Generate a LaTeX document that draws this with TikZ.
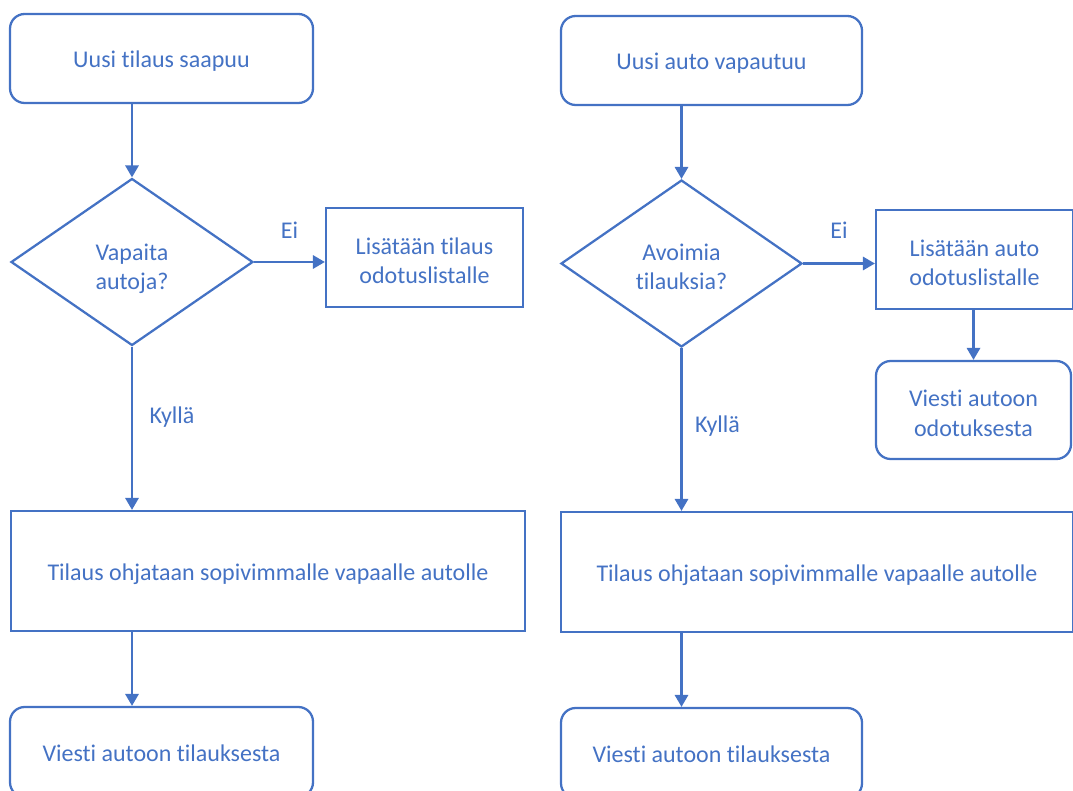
\documentclass[tikz,border=0pt]{standalone}
\usepackage{fontspec}
\setmainfont{Carlito}[Ligatures={NoCommon}]
\usetikzlibrary{shapes.geometric,arrows.meta}
\definecolor{flowblue}{HTML}{4472C4}
\begin{document}
\begin{tikzpicture}[x=0.75pt,y=-0.75pt,
  every node/.style={text=flowblue,font=\fontsize{18}{22}\selectfont,align=center},
  wh/.style 2 args={minimum width=#1*0.75pt,minimum height=#2*0.75pt,inner sep=0pt},
  % fixed text height and depth keep the text block evenly placed in its shape
  base/.style={draw=flowblue,line width=1.7pt,text height=19pt,text depth=5pt},
  twolines/.style={text height=#1},
  terminal/.style={base,rectangle,rounded corners=11pt},
  process/.style={base,rectangle},
  decision/.style={base,diamond},
  arr/.style={draw=flowblue,line width=1.7pt,-{Triangle[length=9pt,width=10pt]}},
  lbl/.style={draw=none,inner sep=0pt}]
\path[use as bounding box,clip] (0,0) rectangle (1073,791);

% left flow: a new order arrives
\node[terminal,wh={303}{89}] (s1) at (161.5,58.5) {Uusi tilaus saapuu};
\node[decision,wh={242}{167},twolines=47pt] (d1) at (132,262) {Vapaita\\autoja?};
\node[process,wh={197}{99},twolines=44pt] (q1) at (424.5,257.5) {Lisätään tilaus\\odotuslistalle};
\node[process,wh={514}{120}] (t1) at (268,571) {Tilaus ohjataan sopivimmalle vapaalle autolle};
\node[terminal,wh={303}{90}] (e1) at (161.5,752) {Viesti autoon tilauksesta};

\draw[arr] (d1.north |- s1.south) -- (d1.north);
\draw[arr] (d1.east) -- node[lbl,midway,yshift=24pt] (ei1) {Ei} (d1.east -| q1.west);
\draw[arr] (d1.south) -- node[lbl,pos=0.434,xshift=30pt] (ky1) {Kyllä} (d1.south |- t1.north);
\draw[arr] (d1.south |- t1.south) -- (d1.south |- e1.north);

% right flow: a car becomes free
\node[terminal,wh={301}{89}] (s2) at (711.5,60.5) {Uusi auto vapautuu};
\node[decision,wh={241}{167},twolines=44pt] (d2) at (681.5,263.5) {Avoimia\\tilauksia?};
\node[process,wh={197}{99},twolines=44pt] (q2) at (974.5,259.5) {Lisätään auto\\odotuslistalle};
\node[terminal,wh={195}{98},twolines=44pt] (m2) at (973.5,410) {Viesti autoon\\odotuksesta};
\node[process,wh={512}{120}] (t2) at (817,572) {Tilaus ohjataan sopivimmalle vapaalle autolle};
\node[terminal,wh={301}{90}] (e2) at (711.5,753) {Viesti autoon tilauksesta};

\draw[arr] (d2.north |- s2.south) -- (d2.north);
\draw[arr] (d2.east) -- node[lbl,midway,yshift=24.75pt] (ei2) {Ei} (d2.east -| q2.west);
\draw[arr] (m2.north |- q2.south) -- (m2.north);
\draw[arr] (d2.south) -- node[lbl,pos=0.479,xshift=27pt] (ky2) {Kyllä} (d2.south |- t2.north);
\draw[arr] (d2.south |- t2.south) -- (d2.south |- e2.north);
\end{tikzpicture}
\end{document}
